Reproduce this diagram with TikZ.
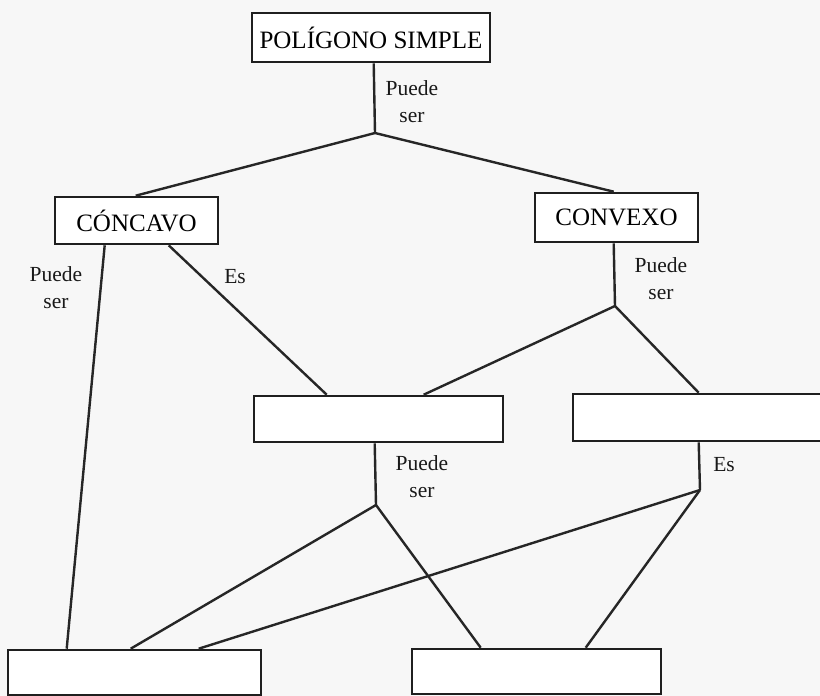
\documentclass[tikz,border=0pt]{standalone}
\usepackage{fontspec}
\setmainfont{Liberation Serif}
\begin{document}
\begin{tikzpicture}[x=1pt,y=-1pt,
  box/.style={draw=black!88, line width=2.6pt, fill=white, rectangle, inner sep=0pt, font=\fontsize{25}{29}\selectfont},
  conn/.style={draw=black!85, line width=2.4pt},
  lab/.style={align=center, inner sep=0pt, text=black!90, font=\fontsize{21.5}{27}\selectfont}]
\useasboundingbox (0,0) rectangle (820,696);
\fill[white!97!black] (0,0) rectangle (820,696);
\clip (0,0) rectangle (820,696);
% boxes
\node[box, minimum width=238pt, minimum height=49pt] (top) at (371,37.5) {POLÍGONO SIMPLE};
\node[box, minimum width=163pt, minimum height=47pt] (conc) at (136.5,220.5) {CÓNCAVO};
\node[box, minimum width=163pt, minimum height=49pt] (conv) at (616.5,217.5) {CONVEXO};
\node[box, minimum width=249pt, minimum height=46pt] (ml) at (378.5,419) {};
\node[box, minimum width=270pt, minimum height=47pt] (mr) at (708,417.5) {};
\node[box, minimum width=253pt, minimum height=45pt] (bl) at (134.5,672.5) {};
\node[box, minimum width=249pt, minimum height=45pt] (br) at (536.5,671.5) {};
% junctions
\coordinate (j1) at (375,133);
\coordinate (j2) at (615,306);
\coordinate (j3) at (376,505);
\coordinate (j4) at (700,490);
% connectors
\draw[conn] ([xshift=123pt]top.south west) -- (j1);
\draw[conn] (j1) -- ([xshift=82pt]conc.north west);
\draw[conn] (j1) -- ([xshift=80pt]conv.north west);
\draw[conn] ([xshift=80pt]conv.south west) -- (j2);
\draw[conn] ([xshift=51pt]conc.south west) -- ([xshift=60pt]bl.north west);
\draw[conn] ([xshift=115pt]conc.south west) -- ([xshift=74pt]ml.north west);
\draw[conn] (j2) -- ([xshift=171pt]ml.north west);
\draw[conn] (j2) -- ([xshift=127pt]mr.north west);
\draw[conn] ([xshift=122pt]ml.south west) -- (j3);
\draw[conn] (j3) -- ([xshift=124pt]bl.north west);
\draw[conn] (j3) -- ([xshift=70pt]br.north west);
\draw[conn] ([xshift=127pt]mr.south west) -- (j4);
\draw[conn] (j4) -- ([xshift=192pt]bl.north west);
\draw[conn] (j4) -- ([xshift=175pt]br.north west);
% labels
\node[lab] (l1) at (412,102) {Puede\\ser};
\node[lab] (l2) at (661,279) {Puede\\ser};
\node[lab] (l3) at (56,288) {Puede\\ser};
\node[lab] (l4) at (235,277) {Es};
\node[lab] (l5) at (422,477) {Puede\\ser};
\node[lab] (l6) at (724,465) {Es};
\end{tikzpicture}
\end{document}
